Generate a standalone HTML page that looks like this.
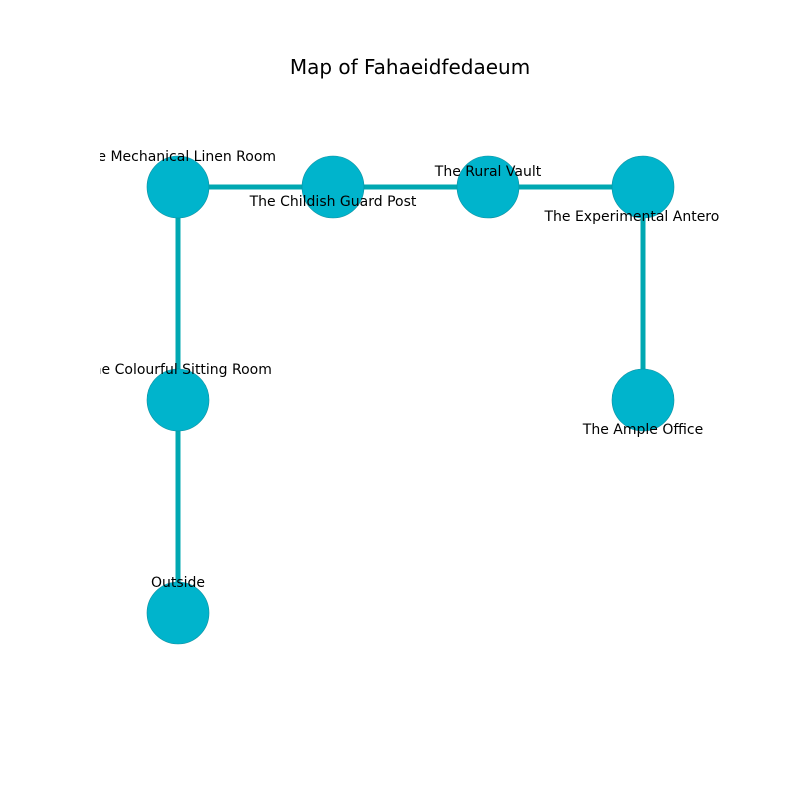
<!DOCTYPE html>
<html><head><meta charset="utf-8"><style>html,body{margin:0;padding:0;background:#fff}</style></head>
<body>
<svg width="800" height="800" viewBox="0 0 800 800" xmlns="http://www.w3.org/2000/svg" font-family="DejaVu Sans, Liberation Sans, sans-serif">
<rect width="800" height="800" fill="#fff"/>
<text x="410" y="74" font-size="20" text-anchor="middle" fill="#000">Map of Fahaeidfedaeum</text>
<defs><clipPath id="c"><rect x="100" y="96" width="620" height="620"/></clipPath></defs>
<g clip-path="url(#c)">
<g stroke="#00a8b2" stroke-width="5" fill="none">
<line x1="178" y1="187" x2="643" y2="187"/>
<line x1="178" y1="187" x2="178" y2="613"/>
<line x1="643" y1="187" x2="643" y2="400"/>
</g>
<g fill="#00b4cc" stroke="#0a8fa0" stroke-width="0.6">
<circle cx="178" cy="187" r="31"/>
<circle cx="333" cy="187" r="31"/>
<circle cx="488" cy="187" r="31"/>
<circle cx="643" cy="187" r="31"/>
<circle cx="178" cy="400" r="31"/>
<circle cx="643" cy="400" r="31"/>
<circle cx="178" cy="613" r="31"/>
</g>
<g font-size="14" text-anchor="middle" fill="#000">
<text x="178" y="161">The Mechanical Linen Room</text>
<text x="333" y="206">The Childish Guard Post</text>
<text x="488" y="176">The Rural Vault</text>
<text x="643" y="221">The Experimental Anteroom</text>
<text x="178" y="374">The Colourful Sitting Room</text>
<text x="643" y="434">The Ample Office</text>
<text x="178" y="587">Outside</text>
</g>
</g>
</svg>
</body></html>
